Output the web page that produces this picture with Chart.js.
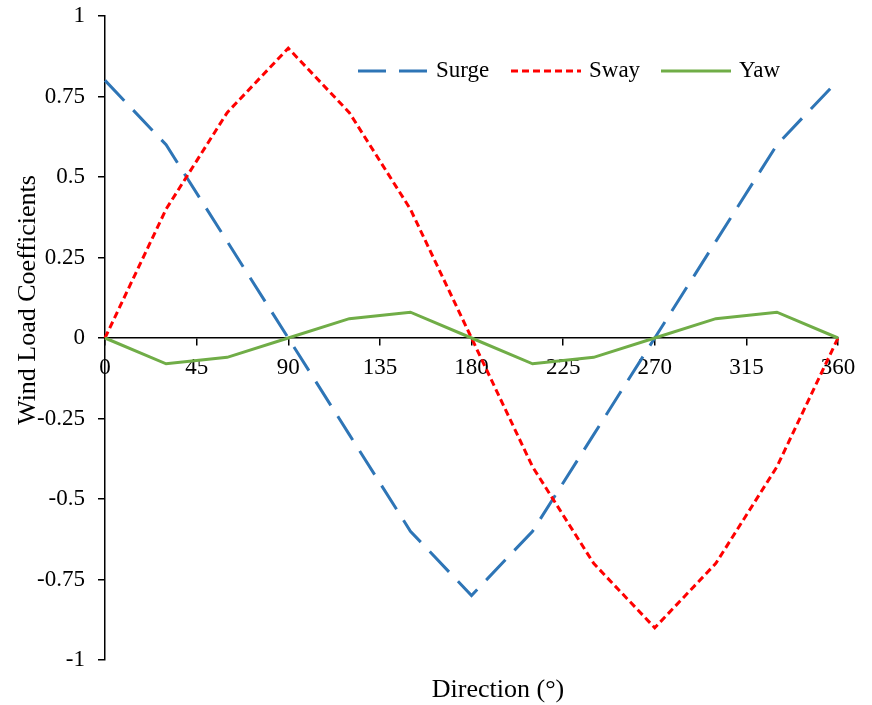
<!DOCTYPE html>
<html>
<head>
<meta charset="utf-8">
<script src="https://cdn.jsdelivr.net/npm/chart.js@4/dist/chart.umd.min.js"></script>
<style>
  body { margin: 0; background: #fff; }
  #wrap { width: 872px; height: 705px; }
</style>
</head>
<body>
<div id="wrap"><canvas id="myChart" width="872" height="705"></canvas></div>
<script>
const directions = [0, 30, 60, 90, 120, 150, 180, 210, 240, 270, 300, 330, 360];
const surge = [0.8, 0.6, 0.3, 0, -0.3, -0.6, -0.8, -0.6, -0.3, 0, 0.3, 0.6, 0.8];
const sway = [0, 0.4, 0.7, 0.9, 0.7, 0.4, 0, -0.4, -0.7, -0.9, -0.7, -0.4, 0];
const yaw = [0, -0.08, -0.06, 0, 0.06, 0.08, 0, -0.08, -0.06, 0, 0.06, 0.08, 0];
const xTicks = [0, 45, 90, 135, 180, 225, 270, 315, 360];
const yTicks = [-1, -0.75, -0.5, -0.25, 0, 0.25, 0.5, 0.75, 1];

const FONT = '"Liberation Serif", "Times New Roman", serif';

function pts(vals) {
  return directions.map((d, i) => ({ x: d, y: vals[i] }));
}

// titles + legend drawn inside the plot like the excel original
const extras = {
  id: 'extras',
  afterDraw(chart) {
    const ctx = chart.ctx;
    ctx.save();
    ctx.fillStyle = '#000';
    ctx.font = '26px ' + FONT;
    ctx.textAlign = 'center';
    ctx.textBaseline = 'middle';
    ctx.fillText('Direction (°)', 498, 690);
    ctx.save();
    ctx.translate(28, 300);
    ctx.rotate(-Math.PI / 2);
    ctx.fillText('Wind Load Coefficients', 0, 0);
    ctx.restore();

    ctx.font = '23px ' + FONT;
    const starts = [358, 511, 661];
    const y = 71;
    chart.data.datasets.forEach((ds, i) => {
      const x = starts[i];
      ctx.strokeStyle = ds.borderColor;
      ctx.lineWidth = ds.borderWidth;
      ctx.setLineDash(ds.borderDash || []);
      ctx.beginPath();
      ctx.moveTo(x, y);
      ctx.lineTo(x + 70, y);
      ctx.stroke();
      ctx.setLineDash([]);
      ctx.textAlign = 'left';
      ctx.fillText(ds.label, x + 78, y);
    });
    ctx.restore();
  }
};

function noPad(s) {
  s.paddingTop = 0; s.paddingBottom = 0; s.paddingLeft = 0; s.paddingRight = 0;
}

new Chart(document.getElementById('myChart'), {
  type: 'line',
  data: {
    datasets: [{
      label: 'Surge',
      data: pts(surge),
      borderColor: '#2E75B6',
      borderWidth: 3,
      borderDash: [28, 13],
      order: 3
    }, {
      label: 'Sway',
      data: pts(sway),
      borderColor: '#FF0000',
      borderWidth: 3,
      borderDash: [7, 4],
      order: 2
    }, {
      label: 'Yaw',
      data: pts(yaw),
      borderColor: '#70AD47',
      borderWidth: 3,
      order: 1
    }]
  },
  options: {
    responsive: false,
    animation: false,
    layout: { padding: { top: 16, right: 34, left: 0, bottom: 45 } },
    elements: { point: { radius: 0 }, line: { tension: 0, fill: false } },
    datasets: { line: { clip: false } },
    plugins: { legend: { display: false }, tooltip: { enabled: false } },
    scales: {
      x: {
        type: 'linear',
        position: { y: 0 },
        min: 0,
        max: 360,
        afterBuildTicks: (s) => { s.ticks = xTicks.map(v => ({ value: v })); },
        afterFit: (s) => { s.height = 0; noPad(s); },
        grid: { drawOnChartArea: false, drawTicks: true, tickLength: 7, color: '#000', lineWidth: 1.5 },
        border: { color: '#000', width: 1.5 },
        ticks: { color: '#000', padding: 9, maxRotation: 0, font: { family: FONT, size: 23 } }
      },
      y: {
        min: -1,
        max: 1,
        afterBuildTicks: (s) => { s.ticks = yTicks.map(v => ({ value: v })); },
        afterFit: (s) => { s.width = 105; noPad(s); },
        grid: { drawOnChartArea: false, drawTicks: true, tickLength: 7, color: '#000', lineWidth: 1.5 },
        border: { color: '#000', width: 1.5 },
        ticks: {
          color: '#000',
          padding: 13,
          font: { family: FONT, size: 23 },
          callback: (v) => String(+v.toFixed(2))
        }
      }
    }
  },
  plugins: [extras]
});
</script>
</body>
</html>
